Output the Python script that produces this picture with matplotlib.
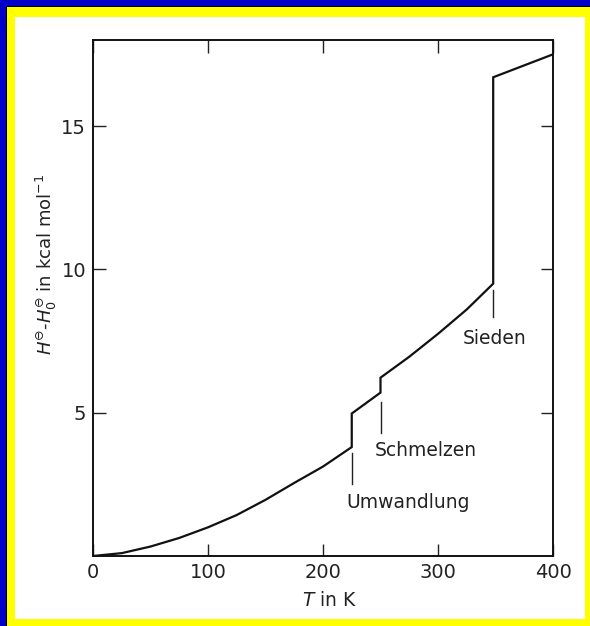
import matplotlib
matplotlib.use('Agg')
from matplotlib import pyplot as plt
from matplotlib.patches import Rectangle

# Enthalpy curve H - H0 (kcal/mol) vs T (K)
T = [0, 25, 50, 75, 100, 125, 150, 175, 200, 225,
     225, 250, 250, 275, 300, 325, 348, 348, 400]
H = [0, 0.1, 0.33, 0.63, 1.0, 1.43, 1.96, 2.55, 3.12, 3.8,
     4.97, 5.7, 6.22, 6.95, 7.75, 8.6, 9.5, 16.7, 17.5]

# phase transitions: name, temperature, marker line (top, bottom), label position
trans_names = ['Umwandlung', 'Schmelzen', 'Sieden']
trans_T = [225, 250, 348]
mark_top = [3.6, 5.38, 9.27]
mark_bot = [2.52, 4.3, 8.32]
label_T = [274, 289, 349]
label_H = [1.85, 3.67, 7.6]

x_ticks = [0, 100, 200, 300, 400]
y_ticks = [5, 10, 15]

W, Hpx = 590, 626
fig = plt.figure(figsize=(W / 100, Hpx / 100), dpi=100)
fig.patch.set_facecolor('#0000c8')

# yellow frame + white page
fig.patches.append(Rectangle((6 / W, 0), 1 - 6 / W, 1 - 6 / Hpx, transform=fig.transFigure,
                             facecolor='black', edgecolor='none', zorder=-3))
fig.patches.append(Rectangle((7 / W, 0), 1 - 7 / W, 1 - 7 / Hpx, transform=fig.transFigure,
                             facecolor='#ffff00', edgecolor='none', zorder=-2))
fig.patches.append(Rectangle((15 / W, 7 / Hpx), (585 - 15) / W, (619 - 17) / Hpx,
                             transform=fig.transFigure,
                             facecolor='white', edgecolor='none', zorder=-1))

ax = fig.add_axes([93 / W, 70 / Hpx, 460 / W, 516 / Hpx])
ax.set_facecolor('none')
ax.plot(T, H, color='#111111', lw=1.6, solid_joinstyle='miter')

for name, t, y1, y2, lt, lh in zip(trans_names, trans_T, mark_top, mark_bot, label_T, label_H):
    ax.plot([t, t], [y1, y2], color='#222222', lw=1.0)
    ax.text(lt, lh, name, ha='center', va='center', fontsize=13.5, color='#222222')

ax.set_xlim(0, 400)
ax.set_ylim(0, 18)
ax.set_xticks(x_ticks)
ax.set_yticks(y_ticks)
ax.tick_params(direction='in', length=9, width=1.0, top=True, right=True,
               labelsize=14, colors='#222222', pad=5)
for s in ax.spines.values():
    s.set_linewidth(1.4)
    s.set_color('#111111')

fig.text(330 / W, 1 - 601 / Hpx, r'$T$ in K', ha='center', va='center',
         fontsize=13.5, color='#222222')
fig.text(46 / W, 1 - 264 / Hpx, r'$H^{\ominus}$-$H_0^{\ominus}$ in kcal mol$^{-1}$', rotation=90,
         ha='center', va='center', fontsize=13, color='#222222')

fig.savefig('out.png', dpi=100, facecolor=fig.get_facecolor())
